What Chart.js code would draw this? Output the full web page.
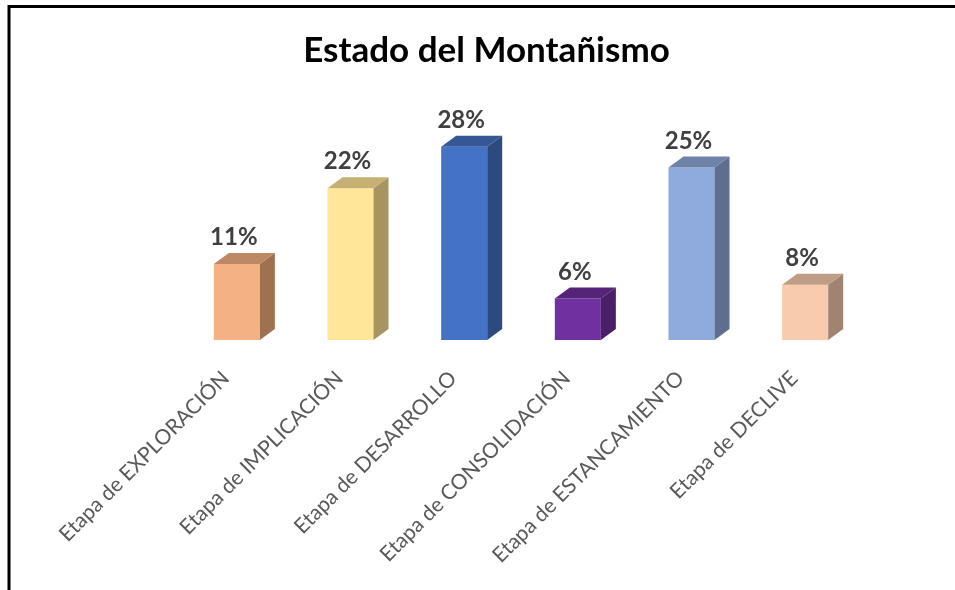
<!DOCTYPE html>
<html>
<head>
<meta charset="utf-8">
<script src="https://cdn.jsdelivr.net/npm/chart.js@4"></script>
<style>
  body { margin: 0; background: #fff; }
  #wrap { width: 955px; height: 590px; }
</style>
</head>
<body>
<div id="wrap"><canvas id="myChart" width="955" height="590"></canvas></div>
<script>
var categories = ['Etapa de EXPLORACIÓN', 'Etapa de IMPLICACIÓN', 'Etapa de DESARROLLO',
                  'Etapa de CONSOLIDACIÓN', 'Etapa de ESTANCAMIENTO', 'Etapa de DECLIVE'];
var values = [11, 22, 28, 6, 25, 8];
var valueLabels = ['11%', '22%', '28%', '6%', '25%', '8%'];

var frontColors = ['#F4B183', '#FFE699', '#4472C4', '#7030A0', '#8FAADC', '#F8CBAD'];
var sideColors  = ['#9E7150', '#A6955E', '#2C4A80', '#491F68', '#5D6E8F', '#A18470'];
var topColors   = ['#BD8866', '#C4B173', '#355895', '#552479', '#6E83A8', '#BF9C85'];

// fake 3d: side + top faces and the value labels
var box3d = {
    id: 'box3d',
    beforeDraw: function (chart) {
        var c = chart.ctx;
        c.save();
        c.fillStyle = '#fff';
        c.fillRect(0, 0, chart.width, chart.height);
        c.strokeStyle = '#000';
        c.lineWidth = 3;
        c.beginPath();
        c.moveTo(9, 590);
        c.lineTo(9, 6.5);
        c.lineTo(955, 6.5);
        c.stroke();
        c.restore();
    },
    afterDatasetsDraw: function (chart) {
        var c = chart.ctx;
        var dx = 15, dy = 11;
        chart.getDatasetMeta(0).data.forEach(function (bar, i) {
            var l = bar.x - bar.width / 2, r = bar.x + bar.width / 2;
            var t = bar.y, b = bar.base;
            c.save();
            c.fillStyle = sideColors[i];
            c.beginPath();
            c.moveTo(r, t); c.lineTo(r + dx, t - dy); c.lineTo(r + dx, b - dy); c.lineTo(r, b);
            c.closePath(); c.fill();
            c.fillStyle = topColors[i];
            c.beginPath();
            c.moveTo(l, t); c.lineTo(l + dx, t - dy); c.lineTo(r + dx, t - dy); c.lineTo(r, t);
            c.closePath(); c.fill();
            c.fillStyle = '#404040';
            c.font = 'bold 24px Lato';
            c.textAlign = 'center';
            c.textBaseline = 'alphabetic';
            c.fillText(valueLabels[i], bar.x - 3, t - dy - 8);
            c.restore();
        });
    }
};

var ctx = document.getElementById('myChart').getContext('2d');
var myChart = new Chart(ctx, {
    type: 'bar',
    data: {
        labels: categories,
        datasets: [{
            data: values,
            backgroundColor: frontColors,
            borderWidth: 0,
            barPercentage: 0.405,
            categoryPercentage: 1
        }]
    },
    options: {
        responsive: false,
        animation: false,
        layout: { padding: { left: 18, right: 0, top: 0, bottom: 0 } },
        plugins: {
            legend: { display: false },
            tooltip: { enabled: false },
            title: {
                display: true,
                text: 'Estado del Montañismo',
                color: '#000',
                font: { family: 'Lato', size: 35, weight: 'bold' },
                padding: { top: 30, bottom: 61 }
            }
        },
        scales: {
            x: {
                grid: { display: false },
                border: { display: false },
                ticks: {
                    color: '#595959',
                    font: { family: 'Lato', size: 21 },
                    minRotation: 45,
                    maxRotation: 45,
                    autoSkip: false,
                    padding: 18,
                    labelOffset: -11
                },
                afterFit: function (scale) {
                    scale.paddingLeft = 180;
                    scale.paddingRight = 93;
                    scale.height = 250;
                }
            },
            y: {
                display: false,
                min: 0,
                max: 30
            }
        }
    },
    plugins: [box3d]
});
</script>
</body>
</html>
